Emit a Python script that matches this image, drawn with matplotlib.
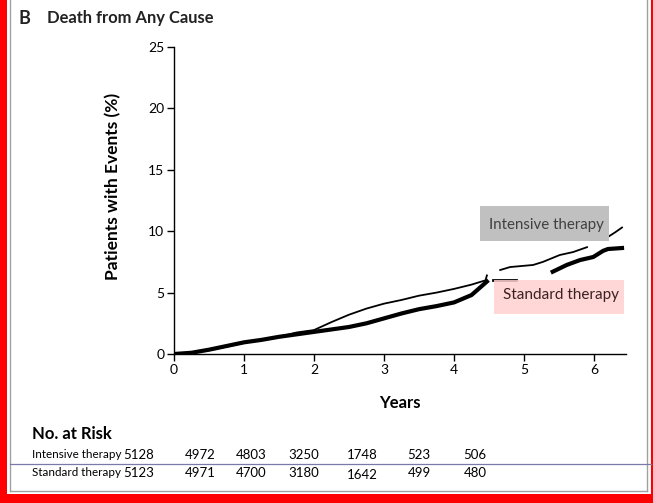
import numpy as np
import matplotlib.pyplot as plt
from matplotlib.patches import Rectangle
from matplotlib.lines import Line2D

plt.rcParams['font.family'] = ['Lato', 'DejaVu Sans']

W, H = 653, 503

# Kaplan-Meier style cumulative event curves, % of patients
int_t1 = [0, 0.25, 0.5, 0.75, 1.0, 1.25, 1.5, 1.75, 2.0, 2.25, 2.5, 2.75, 3.0, 3.25, 3.5, 3.75, 4.0, 4.25, 4.45, 4.47]
int_y1 = [0, 0.1, 0.3, 0.6, 0.9, 1.15, 1.4, 1.75, 1.95, 2.6, 3.2, 3.7, 4.1, 4.4, 4.75, 5.0, 5.3, 5.65, 6.0, 6.4]
int_t2 = [4.66, 4.8, 5.13, 5.27, 5.51, 5.7, 5.9]
int_y2 = [6.84, 7.08, 7.25, 7.5, 8.06, 8.3, 8.7]
int_t3 = [6.19, 6.3, 6.4]
int_y3 = [9.5, 9.9, 10.3]

std_t1 = [0, 0.25, 0.5, 0.75, 1.0, 1.25, 1.5, 1.75, 2.0, 2.25, 2.5, 2.75, 3.0, 3.25, 3.5, 3.75, 4.0, 4.25, 4.47]
std_y1 = [0, 0.1, 0.35, 0.65, 0.95, 1.15, 1.4, 1.6, 1.8, 2.0, 2.2, 2.5, 2.9, 3.3, 3.65, 3.9, 4.2, 4.8, 5.9]
std_t2 = [4.56, 4.89]
std_y2 = [6.05, 6.05]
std_t3 = [5.41, 5.61, 5.8, 5.99, 6.13, 6.2, 6.4]
std_y3 = [6.7, 7.25, 7.65, 7.9, 8.4, 8.55, 8.63]

risk_groups = ['Intensive therapy', 'Standard therapy']
risk_int = ['5128', '4972', '4803', '3250', '1748', '523', '506']
risk_std = ['5123', '4971', '4700', '3180', '1642', '499', '480']


def px(x, y):
    return x / W, 1 - y / H


fig = plt.figure(figsize=(W / 100, H / 100), dpi=100)
ax = fig.add_axes([174 / W, 149 / H, 452 / W, 307 / H])

for t, y in [(int_t1, int_y1), (int_t2, int_y2), (int_t3, int_y3)]:
    ax.plot(t, y, color='black', lw=1.3, zorder=3)
for t, y in [(std_t1, std_y1), (std_t3, std_y3)]:
    ax.plot(t, y, color='black', lw=3.0, zorder=3)
ax.plot(std_t2, std_y2, color='black', lw=2.0, zorder=3)

ax.set_xlim(0, 6.457)
ax.set_ylim(0, 25)
ax.set_xticks(range(7))
ax.set_yticks(range(0, 26, 5))
for s in ['top', 'right']:
    ax.spines[s].set_visible(False)
for s in ['left', 'bottom']:
    ax.spines[s].set_linewidth(1.0)
ax.tick_params(direction='out', length=5, width=1, labelsize=10, colors='black', pad=2)
ax.set_xlabel('Years', fontsize=12, fontweight='bold', labelpad=14)
ax.set_ylabel('Patients with Events (%)', fontsize=12.5, fontweight='bold')
ax.yaxis.set_label_coords(-0.117, 0.545)

# curve labels
ax.add_patch(Rectangle(px(480, 241), 129 / W, 35 / H, transform=fig.transFigure,
                       facecolor='#c0c0c0', edgecolor='none', zorder=4))
fig.text(*px(489, 225), 'Intensive therapy', fontsize=10.8, color='#404040', va='center', zorder=5)
ax.add_patch(Rectangle(px(494, 314), 130 / W, 34 / H, transform=fig.transFigure,
                       facecolor='#ffd0d0', edgecolor='none', alpha=0.85, zorder=4))
fig.text(*px(503, 295), 'Standard therapy', fontsize=11, color='#3a2020', va='center', zorder=5)

# title
fig.text(*px(18, 18), 'B', fontsize=13, fontweight='bold', va='center', color='#222222')
fig.text(*px(47, 18), 'Death from Any Cause', fontsize=11.9, fontweight='bold', va='center', color='#222222')

# number at risk table
fig.text(*px(32, 434), 'No. at Risk', fontsize=12, fontweight='bold', va='center')
num_x = [139, 200, 251, 304, 362, 419, 475]
for row, (name, vals) in enumerate(zip(risk_groups, [risk_int, risk_std])):
    yy = 455 + row * 18
    fig.text(*px(32, yy), name, fontsize=8.4, va='center')
    for xx, v in zip(num_x, vals):
        dy = 2 if (row == 1 and v == '1642') else 0
        fig.text(*px(xx, yy + dy), v, fontsize=9.5, va='center', ha='center')

# page frame
fig.add_artist(Rectangle((0, 0), 7 / W, 1, transform=fig.transFigure, facecolor='#ff0000', edgecolor='none'))
fig.add_artist(Rectangle((0, 0), 1, 9 / H, transform=fig.transFigure, facecolor='#ff0000', edgecolor='none'))
fig.add_artist(Line2D([651.5 / W] * 2, [0, 1], transform=fig.transFigure, color='#ff0000', lw=1.5))
fig.add_artist(Line2D([9.5 / W] * 2, [12 / H, 1], transform=fig.transFigure, color='#a0a0a0', lw=1))
fig.add_artist(Line2D([646.5 / W] * 2, [12 / H, 1], transform=fig.transFigure, color='#a0a0a0', lw=1))
fig.add_artist(Line2D([9.5 / W, 646.5 / W], [12 / H] * 2, transform=fig.transFigure, color='#a0a0a0', lw=1))
fig.add_artist(Line2D([9.5 / W, 651 / W], [1 - 464 / H] * 2, transform=fig.transFigure, color='#7a7aa8', lw=0.9))

fig.savefig('out.png', dpi=100)
